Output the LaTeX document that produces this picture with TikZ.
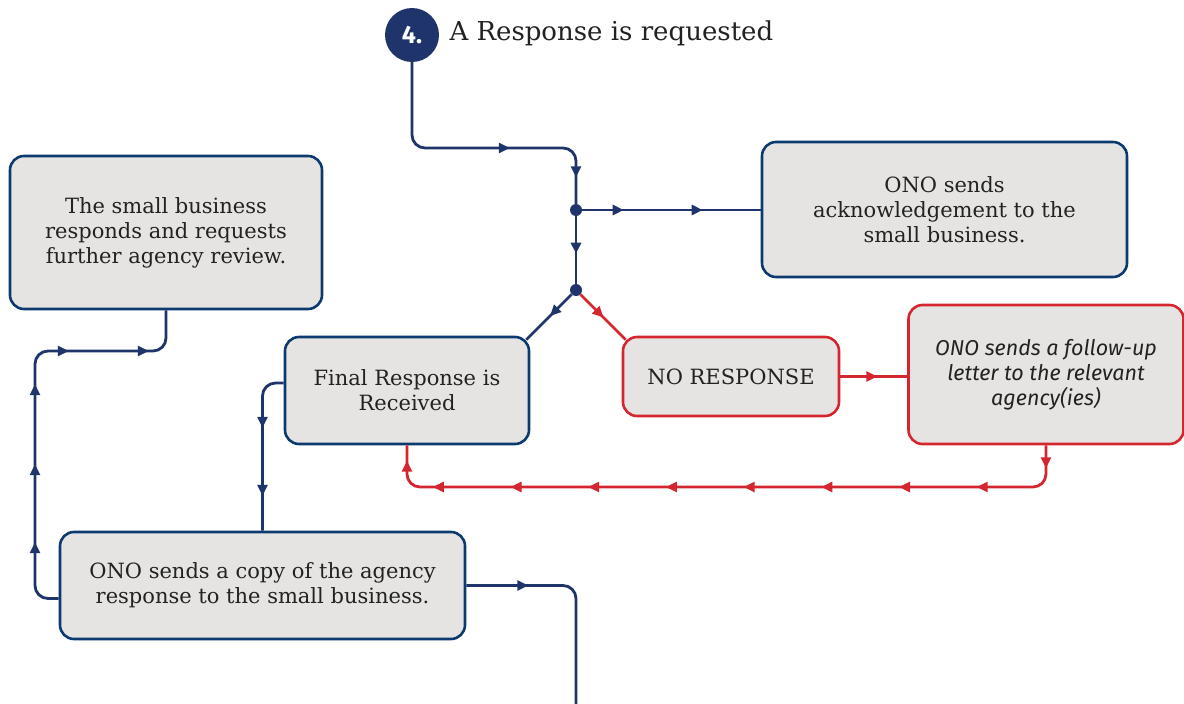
\documentclass[tikz,border=0pt]{standalone}
\usepackage{fontspec}
\setmainfont{DejaVu Serif}
\newfontfamily\notefont{Fira Sans}
\usetikzlibrary{arrows.meta,decorations.markings}
\definecolor{navyline}{RGB}{31,52,106}
\definecolor{navybox}{RGB}{12,58,110}
\definecolor{redline}{RGB}{212,38,46}
\definecolor{boxgray}{RGB}{229,228,226}
\definecolor{inktext}{RGB}{34,34,34}
\tikzset{
  stepbox/.style={draw=navybox, fill=boxgray, line width=2.6pt, rounded corners=14pt,
    align=center, text=inktext, font=\fontsize{21}{25}\selectfont},
  redbox/.style={stepbox, draw=redline},
  flow/.style={navyline, line width=2.8pt, rounded corners=13pt},
  redflow/.style={flow, redline},
  tip/.style={postaction={decorate, decoration={markings,
    mark=at position #1 with {\arrow{Triangle[length=11pt,width=10pt]}}}}},
  junction/.style={circle, fill=navyline, inner sep=0pt, minimum size=12pt},
}

\begin{document}
\begin{tikzpicture}[x=1pt,y=-1pt]
\useasboundingbox (0,0) rectangle (1184,704);
  \node[circle, fill=navyline, minimum size=54pt, inner sep=0pt, text=white,
    font=\notefont\bfseries\fontsize{25}{25}\selectfont] (n4) at (412,35) {4.};
  \node[anchor=west, text=inktext, font=\fontsize{26}{30}\selectfont] (ttl) at (446,33) {A Response is requested};

  \node[stepbox, minimum width=365pt, minimum height=135pt] (ack) at (944.5,209.5) {ONO sends\\acknowledgement to the\\small business.};
  \node[stepbox, minimum width=312pt, minimum height=153pt] (resp) at (166,232.5) {The small business\\responds and requests\\further agency review.};
  \node[stepbox, minimum width=244pt, minimum height=107pt] (final) at (407,390.5) {Final Response is\\Received};
  \node[redbox, minimum width=216pt, minimum height=79pt] (nores) at (731,376.5) {NO RESPONSE};
  \node[redbox, minimum width=275pt, minimum height=139pt,
    font=\notefont\itshape\fontsize{21.5}{25}\selectfont] (follow) at (1046,374.5) {ONO sends a follow-up\\letter to the relevant\\agency(ies)};
  \node[stepbox, minimum width=405pt, minimum height=107pt] (copy) at (262.5,585.5) {ONO sends a copy of the agency\\response to the small business.};

  \node[junction] (j1) at (576,210) {};
  \node[junction] (j2) at (576,290) {};
  \coordinate (k1) at (576,148);
  \coordinate (k3) at (407,487);
  \coordinate (k4) at (35,351);
  \coordinate (bottom) at (576,704);

  \draw[flow, tip=178pt, tip=268pt] (n4.south) |- (k1) -- (j1);
  \draw[flow, tip=41.5pt, tip=120.5pt] (j1) -- (j1 -| ack.west);
  \draw[flow, tip=37.5pt] (j1) -- (j2);
  \draw[flow, tip=30.5pt] (j2) -- ([shift={(-4,4)}]final.north east);
  \draw[redflow, tip=32.7pt] (j2) -- ([shift={(4,4)}]nores.north west);
  \draw[redflow, tip=37pt] (nores.east) -- (nores.east -| follow.west);
  \draw[redflow, tip=23pt, tip=105.4pt, tip=183.1pt, tip=260.8pt, tip=338.5pt, tip=416.2pt,
    tip=493.9pt, tip=571.6pt, tip=649.3pt, tip=695.8pt] (follow.south) |- (k3) -- (final.south);
  \draw[flow, tip=60.4pt, tip=128.4pt] ([yshift=7.5pt]final.west) -| (copy.north);
  \draw[flow, tip=74.4pt, tip=152.4pt, tip=232.4pt, tip=293.8pt, tip=373.8pt]
    ([yshift=-13pt]copy.west) -| (k4) -| (resp.south);
  \draw[flow, tip=62pt] (copy.east) -| (bottom);
\end{tikzpicture}
\end{document}
